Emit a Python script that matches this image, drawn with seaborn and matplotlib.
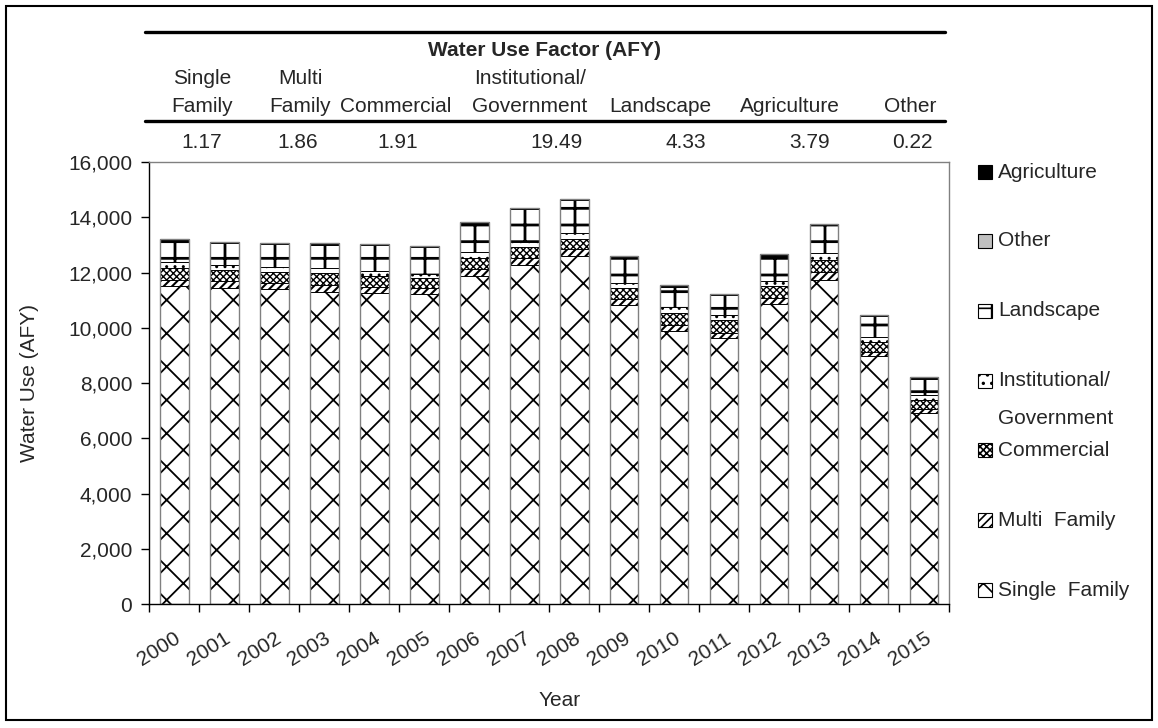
import pandas as pd
import seaborn as sns
import matplotlib.pyplot as plt
from matplotlib.patches import Rectangle
from matplotlib.lines import Line2D
from matplotlib.ticker import FuncFormatter, FixedLocator

# water use by sector (AFY)
years = [str(y) for y in range(2000, 2016)]
single_family = [11510, 11440, 11385, 11305, 11270, 11220, 11860, 12270,
                 12600, 10825, 9895, 9620, 10850, 11730, 8965, 6930]
multi_family = [220, 250, 225, 240, 190, 205, 280, 245,
                240, 205, 205, 200, 215, 280, 165, 120]
commercial = [420, 415, 410, 425, 425, 385, 390, 420,
              375, 400, 445, 460, 445, 445, 350, 335]
institutional = [230, 180, 180, 180, 180, 135, 230, 180,
                 230, 180, 195, 180, 180, 240, 180, 180]
landscape = [765, 780, 835, 850, 915, 980, 958, 1180,
             1180, 940, 740, 710, 890, 1010, 760, 590]
other = [10, 10, 10, 10, 10, 10, 10, 10, 10, 10, 20, 10, 10, 10, 10, 10]
agriculture = [40, 40, 40, 40, 40, 40, 110, 40, 40, 40, 40, 40, 70, 40, 40, 40]

# header table
header_top = ["Single", "Multi", "", "Institutional/", "", "", ""]
header_bottom = ["Family", "Family", "Commercial", "Government",
                 "Landscape", "Agriculture", "Other"]
factors = [1.17, 1.86, 1.91, 19.49, 4.33, 3.79, 0.22]
header_x = [202, 300, 396, 530, 660, 790, 910]
factor_x = [202, 298, 398, 556, 686, 810, 912]

legend_labels = ["Agriculture", "Other", "Landscape", "Institutional/\nGovernment",
                 "Commercial", "Multi  Family", "Single  Family"]

W, H = 1158, 728


def fx(px):
    return px / W


def fy(py):
    return 1 - py / H


sns.set_theme(style="white")
plt.rcParams['font.family'] = ['Liberation Sans', 'DejaVu Sans']
plt.rcParams['hatch.linewidth'] = 1.2
FS = 15

df = pd.DataFrame({
    "year": years,
    "Single Family": single_family,
    "Multi Family": multi_family,
    "Commercial": commercial,
    "Institutional": institutional,
    "Landscape": landscape,
    "Other": other,
    "Agriculture": agriculture,
})
order = ["Single Family", "Multi Family", "Commercial", "Institutional",
         "Landscape", "Other", "Agriculture"]
cum = df[order].cumsum(axis=1)

# facecolor, hatch, hatch line width
styles = {
    "Agriculture": ("black", "", 1.0),
    "Other": ("#C0C0C0", "", 1.0),
    "Landscape": ("white", "+", 2.0),
    "Institutional": ("white", "..", 1.0),
    "Commercial": ("white", "xxxxx", 1.0),
    "Multi Family": ("white", "////", 1.5),
    "Single Family": ("white", "x", 1.3),
}

fig = plt.figure(figsize=(W / 100, H / 100), dpi=100)
ax = fig.add_axes([fx(149), fy(604), 800 / W, 442 / H])

plot_df = cum.copy()
plot_df["year"] = years
# draw cumulative totals from the top layer down so each layer covers the next
for name in order[::-1]:
    color, hatch, hlw = styles[name]
    n_before = len(ax.patches)
    sns.barplot(data=plot_df, x="year", y=name, color=color, hatch=hatch,
                edgecolor="black", linewidth=0.7, width=0.58, saturation=1,
                errorbar=None, ax=ax)
    for p in ax.patches[n_before:]:
        if hasattr(p, "set_hatch_linewidth"):
            p.set_hatch_linewidth(hlw)

# grey outline around each full bar
sns.barplot(data=plot_df, x="year", y="Agriculture", fill=False, color="#808080",
            linewidth=1.0, width=0.58, errorbar=None, ax=ax)

ax.set_xlim(-0.5, 15.5)
ax.set_ylim(0, 16000)
ax.set_yticks(range(0, 16001, 2000))
ax.yaxis.set_major_formatter(FuncFormatter(lambda v, p: f"{v:,.0f}"))
ax.set_xlabel("")
ax.set_ylabel("")

ax.xaxis.set_minor_locator(FixedLocator([i - 0.5 for i in range(17)]))
ax.tick_params(axis="x", which="major", length=0, pad=18, labelsize=FS)
ax.tick_params(axis="x", which="minor", length=6, width=1, color="black",
               direction="out", bottom=True)
ax.tick_params(axis="y", which="major", length=6, width=1, color="black",
               direction="out", left=True, labelsize=FS, pad=6)
for lab in ax.get_xticklabels():
    lab.set_rotation(32)
    lab.set_ha("right")
    lab.set_rotation_mode("anchor")

for side in ["top", "right"]:
    ax.spines[side].set_color("#808080")
    ax.spines[side].set_linewidth(1)
for side in ["left", "bottom"]:
    ax.spines[side].set_color("black")
    ax.spines[side].set_linewidth(1)

fig.text(fx(30), fy(383), "Water Use (AFY)", rotation=90, ha="center",
         va="center", fontsize=FS)
fig.text(fx(560), fy(700), "Year", ha="center", va="center", fontsize=FS)

# header table above the chart
fig.add_artist(Line2D([fx(145), fx(945)], [fy(32), fy(32)], color="black", lw=2.4))
fig.add_artist(Line2D([fx(145), fx(945)], [fy(121), fy(121)], color="black", lw=2.4))
fig.text(fx(545), fy(50), "Water Use Factor (AFY)", ha="center", va="center",
         fontsize=FS, fontweight="bold")
for hx, vx, t1, t2, f in zip(header_x, factor_x, header_top, header_bottom, factors):
    if t1:
        fig.text(fx(hx), fy(78), t1, ha="center", va="center", fontsize=FS)
    fig.text(fx(hx), fy(106), t2, ha="center", va="center", fontsize=FS)
    fig.text(fx(vx), fy(143), f"{f:.2f}", ha="center", va="center", fontsize=FS)

# legend drawn by hand to mimic the spreadsheet layout
legend_y = [172, 241, 311, 381, 450, 520, 590]
legend_keys = ["Agriculture", "Other", "Landscape", "Institutional",
               "Commercial", "Multi Family", "Single Family"]
for key, lab, y in zip(legend_keys, legend_labels, legend_y):
    color, hatch, hlw = styles[key]
    fig.add_artist(Rectangle((fx(978), fy(y + 7)), 14 / W, 14 / H,
                             transform=fig.transFigure, facecolor=color,
                             hatch=hatch, edgecolor="black", lw=0.8))
    if "\n" in lab:
        first, second = lab.split("\n")
        fig.text(fx(998), fy(y), first, ha="left", va="center", fontsize=FS)
        fig.text(fx(998), fy(y + 38), second, ha="left", va="center", fontsize=FS)
    else:
        fig.text(fx(998), fy(y), lab, ha="left", va="center", fontsize=FS)

# outer border
fig.add_artist(Rectangle((fx(6), fy(720)), 1146 / W, 714 / H,
                         transform=fig.transFigure, fill=False,
                         edgecolor="black", lw=1.5))

fig.savefig("out.png", dpi=100)
